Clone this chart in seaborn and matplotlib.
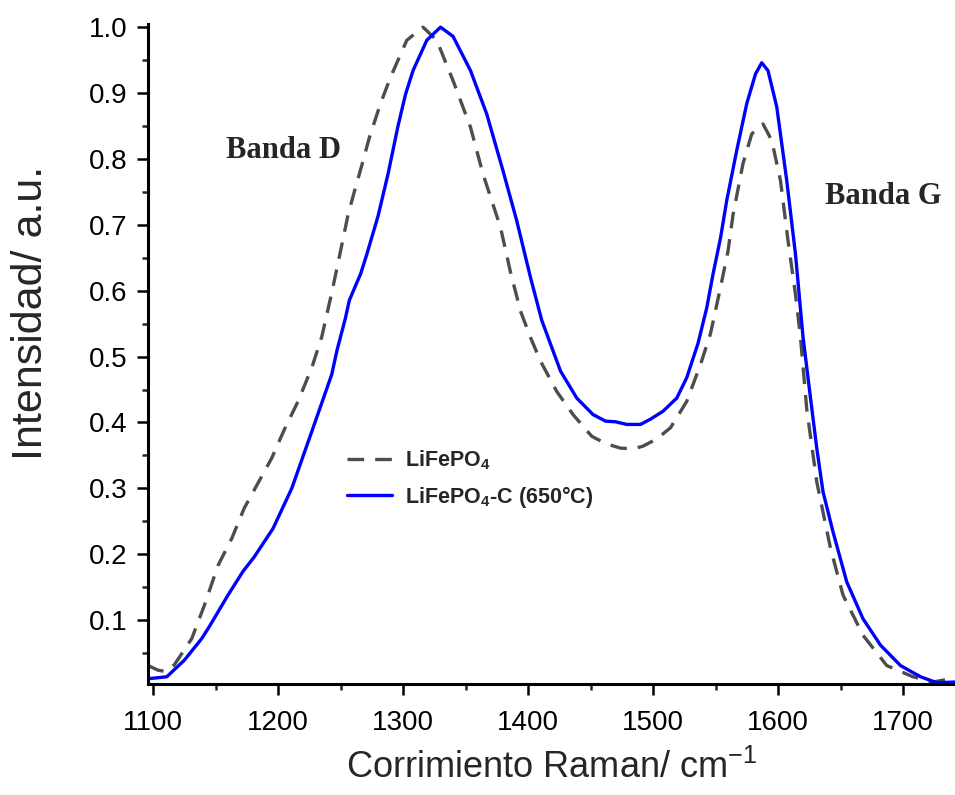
import numpy as np
import pandas as pd
import matplotlib
matplotlib.use("Agg")
import matplotlib.pyplot as plt
import seaborn as sns

# ---- data ----
x_lfp = [1096, 1104, 1110, 1117, 1131, 1141, 1152, 1163, 1173, 1184, 1195, 1205,
         1216, 1227, 1235, 1243, 1250, 1256, 1261, 1267, 1273, 1282, 1290, 1303,
         1316, 1327, 1340, 1354, 1364, 1378, 1386, 1394, 1402, 1410, 1423, 1436,
         1451, 1462, 1474, 1484, 1492, 1503, 1514, 1527, 1538, 1546, 1554, 1560,
         1564, 1572, 1579, 1588, 1595, 1602, 1608, 1614, 1618, 1623, 1631, 1642,
         1652, 1668, 1687, 1708, 1724, 1738, 1745]
y_lfp = [0.031, 0.024, 0.022, 0.032, 0.072, 0.122, 0.183, 0.224, 0.270, 0.308, 0.346, 0.389,
         0.432, 0.483, 0.530, 0.597, 0.660, 0.715, 0.750, 0.790, 0.832, 0.884, 0.924, 0.980,
         1.000, 0.980, 0.919, 0.848, 0.777, 0.696, 0.628, 0.569, 0.529, 0.493, 0.447, 0.412,
         0.379, 0.368, 0.361, 0.360, 0.364, 0.375, 0.392, 0.432, 0.488, 0.535, 0.605, 0.660,
         0.715, 0.793, 0.838, 0.853, 0.828, 0.767, 0.676, 0.594, 0.529, 0.420, 0.310, 0.209,
         0.138, 0.077, 0.031, 0.014, 0.006, 0.011, 0.013]

x_lfpc = [1096, 1111, 1125, 1139, 1145, 1160, 1172, 1181, 1196, 1211, 1229, 1243,
          1247, 1254, 1257, 1263, 1266, 1271, 1280, 1288, 1296, 1302, 1308, 1319,
          1330, 1340, 1354, 1367, 1380, 1391, 1402, 1411, 1426, 1439, 1452, 1462,
          1470, 1479, 1490, 1498, 1508, 1519, 1527, 1536, 1543, 1548, 1554, 1559,
          1567, 1575, 1582, 1587, 1592, 1599, 1607, 1614, 1620, 1626, 1631, 1636,
          1644, 1655, 1668, 1682, 1698, 1714, 1727, 1742, 1745]
y_lfpc = [0.011, 0.014, 0.039, 0.072, 0.090, 0.138, 0.174, 0.196, 0.239, 0.300, 0.397, 0.473,
          0.508, 0.559, 0.585, 0.612, 0.625, 0.655, 0.713, 0.777, 0.850, 0.898, 0.934, 0.980,
          1.000, 0.986, 0.934, 0.868, 0.782, 0.706, 0.620, 0.555, 0.478, 0.437, 0.412, 0.402,
          0.401, 0.397, 0.397, 0.405, 0.417, 0.437, 0.468, 0.520, 0.574, 0.625, 0.680, 0.737,
          0.813, 0.884, 0.929, 0.946, 0.934, 0.879, 0.767, 0.655, 0.530, 0.437, 0.361, 0.295,
          0.234, 0.158, 0.102, 0.062, 0.031, 0.014, 0.005, 0.006, 0.006]

label_lfp = r"LiFePO$_\mathbf{4}$"
label_lfpc = r"LiFePO$_\mathbf{4}$-C (650°C)"
x_ticks = [1100, 1200, 1300, 1400, 1500, 1600, 1700]
y_ticks = [0.1, 0.2, 0.3, 0.4, 0.5, 0.6, 0.7, 0.8, 0.9, 1.0]

# ---- style ----
sns.set_style("ticks")
plt.rcParams["font.family"] = ["Liberation Sans", "DejaVu Sans"]
plt.rcParams["mathtext.fontset"] = "custom"
plt.rcParams["mathtext.rm"] = "Liberation Sans"
plt.rcParams["mathtext.bf"] = "Liberation Sans:bold"
plt.rcParams["mathtext.it"] = "Liberation Sans:italic"

fig = plt.figure(figsize=(9.55, 7.95), dpi=100)
ax = fig.add_axes([0.155, 0.1396, 0.845, 0.8304])

df1 = pd.DataFrame({"x": x_lfp, "y": y_lfp})
df2 = pd.DataFrame({"x": x_lfpc, "y": y_lfpc})

sns.lineplot(data=df1, x="x", y="y", ax=ax, color="#4d4d4d", lw=2.4,
             linestyle="--", estimator=None, sort=False)
l1 = ax.lines[-1]
l1.set_dashes((5.0, 3.3))
sns.lineplot(data=df2, x="x", y="y", ax=ax, color="#0000ff", lw=2.4,
             estimator=None, sort=False)
l2 = ax.lines[-1]

ax.set_xlim(1096, 1741.6)
ax.set_ylim(0.003, 1.005)
ax.set_xticks(x_ticks)
ax.set_yticks(y_ticks)
ax.set_xticks([1150, 1250, 1350, 1450, 1550, 1650], minor=True)
ax.set_yticks([0.05, 0.15, 0.25, 0.35, 0.45, 0.55, 0.65, 0.75, 0.85, 0.95], minor=True)
ax.set_xticklabels([str(v) for v in x_ticks])
ax.set_yticklabels([f"{v:.1f}" for v in y_ticks])

for side in ["top", "right"]:
    ax.spines[side].set_visible(False)
for side in ["left", "bottom"]:
    ax.spines[side].set_linewidth(2.2)
    ax.spines[side].set_color("black")

ax.tick_params(axis="both", which="major", direction="out", length=8, width=1.8,
               labelsize=20, pad=7, colors="black")
ax.tick_params(axis="x", which="major", pad=11)
ax.tick_params(axis="both", which="minor", direction="out", length=4.5, width=1.8)

ax.set_xlabel("Corrimiento Raman/ cm$^{-1}$", fontsize=26, labelpad=10)
ax.set_ylabel("")
fig.text(31 / 955, (795 - 460) / 795, "Intensidad/ a.u.", fontsize=31,
         rotation=90, ha="center", va="bottom")

ax.text(1158.4, 0.802, "Banda D", fontsize=22, fontweight="bold",
        family=["Liberation Serif"], ha="left", va="baseline")
ax.text(1637.6, 0.732, "Banda G", fontsize=22, fontweight="bold",
        family=["Liberation Serif"], ha="left", va="baseline")

leg = ax.legend([l1, l2], [label_lfp, label_lfpc], loc="upper left",
                bbox_to_anchor=(0.2466, 0.357), frameon=False, borderpad=0,
                borderaxespad=0, handlelength=2.1, handletextpad=0.6,
                labelspacing=0.55, prop={"weight": "bold", "size": 15.5})

fig.savefig("out.png", dpi=100, facecolor="white")
